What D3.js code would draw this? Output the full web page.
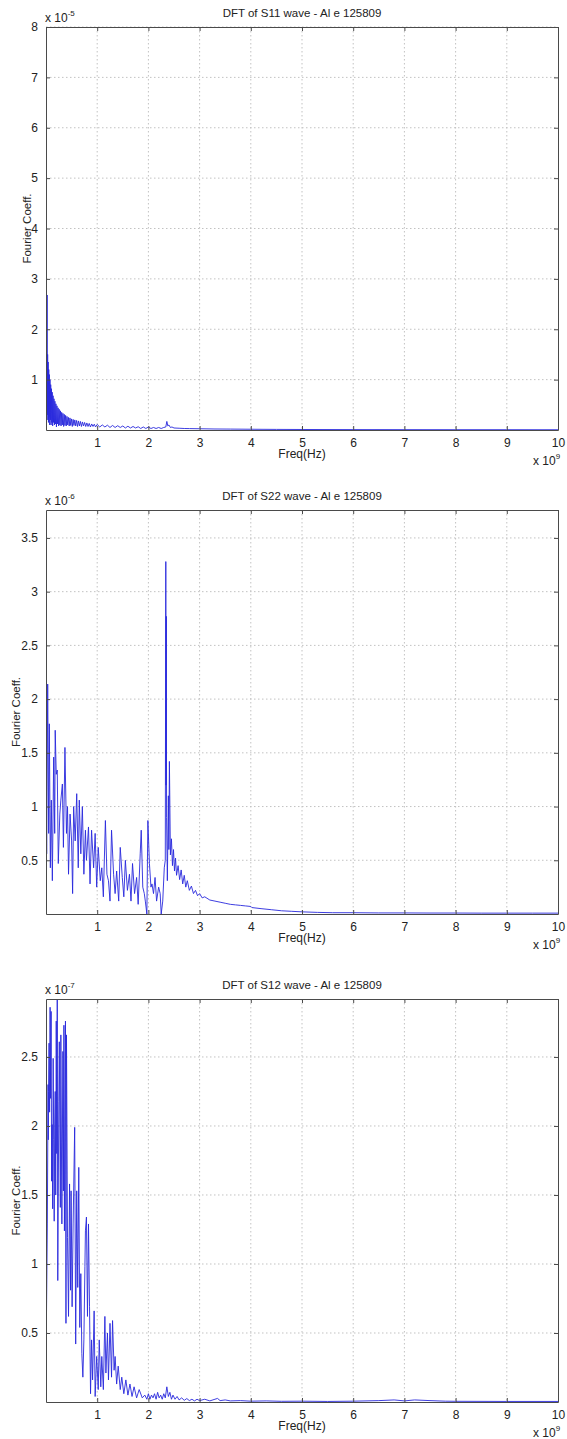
<!DOCTYPE html>
<html>
<head>
<meta charset="utf-8">
<script src="https://cdn.jsdelivr.net/npm/d3@7"></script>
<style>
  html, body { margin: 0; padding: 0; background: #fff; }
  svg { display: block; font-family: "Liberation Sans", Arial, Helvetica, sans-serif; }
</style>
</head>
<body>
<svg id="chart" width="567" height="1439"></svg>
<script>
// Frequency tick labels (units of 1e9 Hz), shared by all three spectra
const freqTicks = [1, 2, 3, 4, 5, 6, 7, 8, 9, 10];

// Titles, y tick labels and scale exponents of each spectrum
const titles = ["DFT of S11 wave - Al e 125809", "DFT of S22 wave - Al e 125809", "DFT of S12 wave - Al e 125809"];
const s11Ticks = [1, 2, 3, 4, 5, 6, 7, 8];
const s22Ticks = [0.5, 1, 1.5, 2, 2.5, 3, 3.5];
const s12Ticks = [0.5, 1, 1.5, 2, 2.5];
const yExponents = ["-5", "-6", "-7"];
const yMax = [8, 3.76, 2.92];

// S11 spectrum: [frequency (x1e9 Hz), coefficient (x1e-5)]
const s11 = [
  [0.008,1.60],[0.014,0.40],[0.022,2.68],[0.027,0.30],[0.032,1.50],[0.037,0.20],[0.042,1.35],[0.048,0.15],
  [0.054,1.20],[0.060,0.25],[0.066,1.10],[0.072,0.10],[0.078,1.00],[0.085,0.20],[0.092,0.90],[0.099,0.10],
  [0.106,0.82],[0.114,0.15],[0.122,0.75],[0.130,0.08],[0.138,0.68],[0.147,0.15],[0.156,0.62],[0.165,0.10],
  [0.174,0.57],[0.184,0.12],[0.194,0.52],[0.204,0.06],[0.214,0.48],[0.225,0.12],[0.236,0.44],[0.247,0.08],
  [0.258,0.41],[0.270,0.10],[0.282,0.38],[0.294,0.08],[0.306,0.35],[0.318,0.10],[0.331,0.33],[0.344,0.07],
  [0.357,0.31],[0.370,0.09],[0.383,0.29],[0.396,0.08],[0.410,0.27],[0.424,0.10],[0.438,0.25],[0.453,0.08],
  [0.468,0.24],[0.483,0.09],[0.498,0.22],[0.514,0.07],[0.530,0.21],[0.546,0.09],[0.563,0.20],[0.580,0.08],
  [0.598,0.19],[0.616,0.07],[0.634,0.18],[0.653,0.08],[0.672,0.17],[0.692,0.07],[0.712,0.16],[0.733,0.08],
  [0.754,0.15],[0.776,0.07],[0.798,0.14],[0.821,0.07],[0.844,0.13],[0.868,0.06],[0.893,0.12],[0.918,0.07],
  [0.943,0.115],[0.968,0.06],[1.00,0.11],[1.05,0.06],
  [1.10,0.10],[1.15,0.06],[1.20,0.095],[1.25,0.05],[1.30,0.09],[1.35,0.05],[1.40,0.085],[1.45,0.05],
  [1.50,0.08],[1.55,0.04],[1.60,0.075],[1.65,0.04],[1.70,0.07],[1.75,0.04],[1.80,0.065],[1.85,0.03],
  [1.90,0.06],[1.95,0.03],[2.00,0.06],[2.05,0.03],[2.10,0.05],[2.15,0.03],[2.20,0.05],[2.25,0.03],
  [2.30,0.05],[2.34,0.06],[2.36,0.17],[2.38,0.08],[2.40,0.10],[2.43,0.05],[2.46,0.06],[2.50,0.04],
  [2.60,0.035],[2.70,0.03],[2.80,0.028],[3.00,0.025],[3.30,0.02],[3.60,0.018],[4.00,0.015],[4.50,0.012],
  [5.00,0.010],[6.00,0.008],[7.00,0.007],[8.00,0.006],[9.00,0.006],[10.0,0.005]
];

// S22 spectrum: [frequency (x1e9 Hz), coefficient (x1e-6)]
const s22 = [
  [0.003,1.43],[0.013,0.56],[0.033,2.14],[0.052,0.75],[0.065,1.77],[0.085,0.43],[0.104,1.06],[0.124,0.31],
  [0.15,1.46],[0.17,0.75],[0.18,1.71],[0.20,1.30],[0.22,1.34],[0.24,0.47],[0.27,0.93],[0.29,1.06],
  [0.32,1.21],[0.34,0.62],[0.37,1.55],[0.40,0.75],[0.42,1.00],[0.44,0.37],[0.47,0.93],[0.50,0.68],
  [0.52,0.19],[0.54,1.00],[0.57,0.68],[0.60,1.12],[0.63,0.43],[0.65,1.06],[0.68,0.56],[0.71,1.00],
  [0.74,0.37],[0.77,0.78],[0.79,0.50],[0.83,0.81],[0.86,0.28],[0.89,0.78],[0.93,0.43],[0.96,0.75],
  [0.99,0.25],[1.02,0.62],[1.06,0.31],[1.09,0.43],[1.12,0.16],[1.16,0.87],[1.19,0.37],[1.22,0.31],
  [1.25,0.12],[1.28,0.78],[1.32,0.37],[1.35,0.19],[1.38,0.40],[1.42,0.12],[1.45,0.62],[1.49,0.34],
  [1.52,0.16],[1.55,0.50],[1.59,0.22],[1.63,0.37],[1.66,0.12],[1.69,0.47],[1.73,0.19],[1.77,0.34],
  [1.80,0.09],[1.84,0.56],[1.86,0.78],[1.89,0.25],[1.92,0.19],[1.94,0.12],[1.97,0.00],[1.99,0.87],
  [2.02,0.47],[2.05,0.25],[2.07,0.28],[2.10,0.19],[2.13,0.34],[2.16,0.12],[2.20,0.25],[2.23,0.19],
  [2.25,0.00],[2.28,0.12],[2.31,0.43],[2.33,0.50],[2.335,2.00],[2.34,3.28],[2.345,1.20],[2.35,2.77],
  [2.355,0.90],[2.37,0.31],[2.39,1.10],[2.40,0.60],[2.41,1.42],[2.43,0.55],[2.45,0.70],[2.47,0.45],
  [2.49,0.60],[2.51,0.40],[2.53,0.52],[2.55,0.36],[2.58,0.45],[2.61,0.32],[2.64,0.41],[2.67,0.28],
  [2.70,0.36],[2.73,0.25],[2.76,0.31],[2.80,0.22],[2.84,0.26],[2.88,0.19],[2.92,0.22],[2.96,0.17],
  [3.00,0.19],[3.05,0.15],[3.10,0.16],[3.20,0.13],[3.30,0.12],[3.40,0.11],[3.50,0.10],[3.60,0.09],
  [3.70,0.085],[3.80,0.08],[3.90,0.075],[4.00,0.07],[4.02,0.06],[4.20,0.05],[4.40,0.04],[4.60,0.03],
  [4.80,0.025],[5.00,0.02],[5.30,0.015],[5.60,0.012],[6.00,0.012],[6.50,0.010],[7.00,0.010],[7.50,0.009],
  [8.00,0.009],[8.50,0.008],[9.00,0.008],[9.50,0.008],[10.0,0.008]
];

// S12 spectrum: [frequency (x1e9 Hz), coefficient (x1e-7)]
const s12 = [
  [0.004,0.42],[0.026,1.29],[0.04,2.30],[0.045,1.90],[0.05,2.25],[0.06,2.60],[0.07,2.10],[0.08,2.86],
  [0.09,2.20],[0.10,2.83],[0.11,1.60],[0.12,2.01],[0.13,1.40],[0.14,2.49],[0.15,1.90],[0.16,1.31],
  [0.17,2.00],[0.18,2.25],[0.19,1.50],[0.20,2.76],[0.21,1.80],[0.22,2.92],[0.23,0.88],[0.25,2.18],
  [0.26,2.61],[0.28,1.41],[0.29,2.66],[0.31,1.29],[0.33,2.54],[0.34,1.53],[0.35,2.73],[0.36,1.24],
  [0.38,2.76],[0.39,0.57],[0.40,2.66],[0.42,1.19],[0.44,0.62],[0.46,1.58],[0.48,0.81],[0.49,1.53],
  [0.51,0.69],[0.53,1.29],[0.56,1.99],[0.58,0.42],[0.60,1.53],[0.62,0.83],[0.64,1.70],[0.66,0.54],
  [0.68,0.93],[0.70,0.35],[0.72,0.18],[0.74,0.45],[0.76,0.98],[0.77,1.24],[0.79,1.34],[0.81,0.62],
  [0.83,1.29],[0.85,0.69],[0.87,0.06],[0.89,0.45],[0.91,0.16],[0.94,0.66],[0.96,0.04],[0.99,0.33],
  [1.02,0.09],[1.04,0.45],[1.07,0.11],[1.09,0.33],[1.12,0.09],[1.15,0.62],[1.17,0.21],[1.20,0.50],
  [1.22,0.16],[1.25,0.57],[1.28,0.18],[1.30,0.59],[1.33,0.23],[1.35,0.33],[1.38,0.13],[1.41,0.26],
  [1.45,0.09],[1.48,0.18],[1.52,0.06],[1.56,0.16],[1.60,0.05],[1.64,0.13],[1.68,0.04],[1.72,0.11],
  [1.77,0.03],[1.82,0.09],[1.88,0.03],[1.93,0.05],[1.97,0.02],[2.00,0.06],[2.03,0.02],[2.06,0.05],
  [2.09,0.03],[2.12,0.06],[2.15,0.02],[2.18,0.07],[2.21,0.03],[2.24,0.05],[2.27,0.02],[2.30,0.06],
  [2.33,0.03],[2.36,0.11],[2.39,0.04],[2.42,0.07],[2.45,0.02],[2.48,0.05],[2.52,0.02],[2.56,0.04],
  [2.60,0.015],[2.65,0.03],[2.70,0.012],[2.75,0.025],[2.80,0.010],[2.85,0.02],[2.90,0.008],[2.95,0.02],
  [3.00,0.010],[3.10,0.02],[3.20,0.008],[3.30,0.02],[3.35,0.026],[3.40,0.010],[3.50,0.015],[3.60,0.008],
  [3.80,0.010],[4.00,0.006],[4.30,0.008],[4.60,0.005],[5.00,0.006],[5.50,0.004],[6.00,0.006],[6.50,0.010],
  [6.80,0.015],[7.00,0.008],[7.20,0.015],[7.50,0.010],[7.80,0.006],[8.00,0.005],[9.00,0.004],[10.0,0.004]
];

const series = [s11, s22, s12];
const yTickSets = [s11Ticks, s22Ticks, s12Ticks];

// Panel frames
const frames = [
  { top: 27, bottom: 430, labelX: 31 },
  { top: 510, bottom: 914, labelX: 20 },
  { top: 999, bottom: 1402, labelX: 20 }
];
const left = 46, right = 558;

const svg = d3.select("#chart");
const textColor = "#222";
const axisColor = "#4a4a4a";
const gridColor = "#c2c2c2";
const lineColor = "#2828dc";
const tickLen = 4;

frames.forEach((fr, i) => {
  const x = d3.scaleLinear().domain([0, 10]).range([left, right]);
  const y = d3.scaleLinear().domain([0, yMax[i]]).range([fr.bottom, fr.top]);
  const g = svg.append("g");
  const yTicks = yTickSets[i];

  // dotted grid
  g.append("g").selectAll("line").data(freqTicks.filter(t => t < 10)).join("line")
    .attr("x1", d => x(d)).attr("x2", d => x(d))
    .attr("y1", fr.top).attr("y2", fr.bottom)
    .attr("stroke", gridColor).attr("stroke-width", 1).attr("stroke-dasharray", "1.5,2.5");
  g.append("g").selectAll("line").data(yTicks).join("line")
    .attr("x1", left).attr("x2", right)
    .attr("y1", d => y(d)).attr("y2", d => y(d))
    .attr("stroke", gridColor).attr("stroke-width", 1).attr("stroke-dasharray", "1.5,2.5");

  // spectrum trace
  const clipId = "clip" + i;
  svg.append("clipPath").attr("id", clipId).append("rect")
    .attr("x", left).attr("y", fr.top).attr("width", right - left).attr("height", fr.bottom - fr.top);
  const line = d3.line().x(d => x(d[0])).y(d => y(d[1]));
  g.append("path").datum(series[i])
    .attr("clip-path", `url(#${clipId})`)
    .attr("d", line)
    .attr("fill", "none")
    .attr("stroke", lineColor)
    .attr("stroke-width", 0.9)
    .attr("stroke-linejoin", "round");

  // axes box with inward ticks on all four sides
  const bottomAxis = d3.axisBottom(x).tickValues(freqTicks).tickSizeInner(-tickLen).tickSizeOuter(0).tickPadding(8).tickFormat(d => String(d));
  const topAxis = d3.axisTop(x).tickValues(freqTicks).tickSizeInner(-tickLen).tickSizeOuter(0).tickFormat("");
  const leftAxis = d3.axisLeft(y).tickValues(yTicks).tickSizeInner(-tickLen).tickSizeOuter(0).tickPadding(8).tickFormat(d => String(d));
  const rightAxis = d3.axisRight(y).tickValues(yTicks).tickSizeInner(-tickLen).tickSizeOuter(0).tickFormat("");

  const styleAxis = sel => {
    sel.select(".domain").attr("stroke", axisColor).attr("stroke-width", 1);
    sel.selectAll(".tick line").attr("stroke", axisColor);
    sel.selectAll(".tick text").attr("fill", textColor).attr("font-size", 12)
      .attr("font-family", "Liberation Sans, Arial, sans-serif");
  };
  g.append("g").attr("transform", `translate(0,${fr.bottom})`).call(bottomAxis).call(styleAxis);
  g.append("g").attr("transform", `translate(0,${fr.top})`).call(topAxis).call(styleAxis);
  g.append("g").attr("transform", `translate(${left},0)`).call(leftAxis).call(styleAxis);
  g.append("g").attr("transform", `translate(${right},0)`).call(rightAxis).call(styleAxis);

  // title
  g.append("text").attr("x", (left + right) / 2).attr("y", fr.top - 10)
    .attr("text-anchor", "middle").attr("font-size", 11.5).attr("fill", textColor)
    .text(titles[i]);

  // y scale exponent
  const ye = g.append("text").attr("x", left - 1).attr("y", fr.top - 5)
    .attr("font-size", 12).attr("fill", textColor);
  ye.append("tspan").text("x 10");
  ye.append("tspan").attr("dy", -6).attr("font-size", 8).text(yExponents[i]);

  // x axis label and exponent
  g.append("text").attr("x", (left + right) / 2).attr("y", fr.bottom + 28)
    .attr("text-anchor", "middle").attr("font-size", 12).attr("fill", textColor)
    .text("Freq(Hz)");
  const xe = g.append("text").attr("x", 533).attr("y", fr.bottom + 35)
    .attr("font-size", 12).attr("fill", textColor);
  xe.append("tspan").text("x 10");
  xe.append("tspan").attr("dy", -6).attr("font-size", 8).text("9");

  // y axis label
  g.append("text")
    .attr("transform", `translate(${fr.labelX},${(fr.top + fr.bottom) / 2}) rotate(-90)`)
    .attr("text-anchor", "middle").attr("font-size", 11.5).attr("fill", textColor)
    .text("Fourier Coeff.");
});
</script>
</body>
</html>
